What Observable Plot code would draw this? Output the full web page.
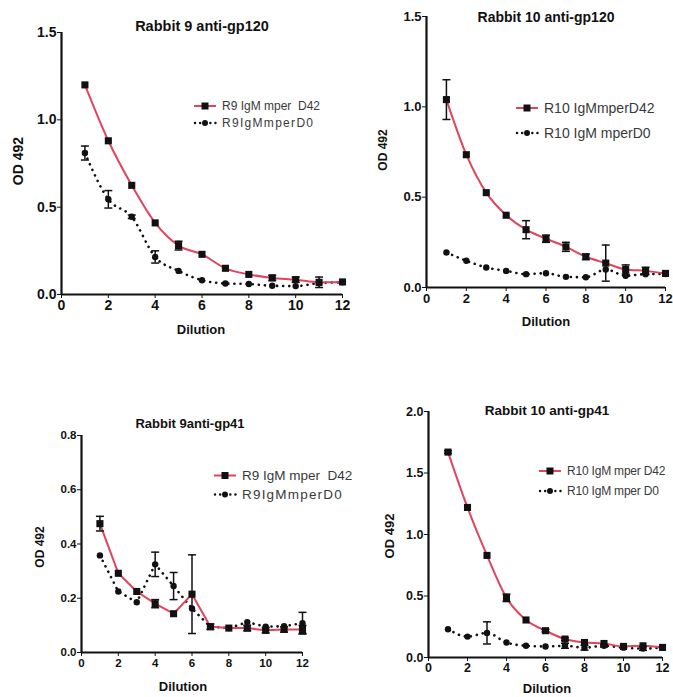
<!DOCTYPE html>
<html><head><meta charset="utf-8">
<script src="https://cdn.jsdelivr.net/npm/d3@7"></script>
<script src="https://cdn.jsdelivr.net/npm/@observablehq/plot@0.6"></script>
<style>
body{margin:0;background:#fff;}
#root{position:relative;width:673px;height:697px;overflow:hidden;font-family:"Liberation Sans",Arial,sans-serif;color:#111;}
.abs{position:absolute;}
.ctr{transform:translate(-50%,-50%);white-space:nowrap;font-weight:bold;}
.rot{transform:translate(-50%,-50%) rotate(-90deg);white-space:nowrap;font-weight:bold;}
.leg{white-space:pre;color:#3a3a3a;display:flex;align-items:center;transform:translateY(-50%);}
.leg svg{margin-right:5px;}
</style>
</head><body><div id="root"></div>
<script>
const dilution = [1,2,3,4,5,6,7,8,9,10,11,12];
const xTicks = [0,2,4,6,8,10,12];
const red = "#e0445e";

// Rabbit 9 anti-gp120
const r9gp120_D42 = [1.20, 0.88, 0.625, 0.41, 0.28, 0.23, 0.15, 0.115, 0.095, 0.085, 0.07, 0.072];
const r9gp120_D42_err = [0, 0, 0, 0, 0.025, 0, 0, 0, 0.015, 0.015, 0.03, 0];
const r9gp120_D0 = [0.81, 0.545, 0.445, 0.215, 0.135, 0.082, 0.063, 0.06, 0.05, 0.048, 0.065, 0.07];
const r9gp120_D0_err = [0.04, 0.05, 0.01, 0.035, 0, 0, 0, 0, 0, 0, 0, 0];

// Rabbit 10 anti-gp120
const r10gp120_D42 = [1.04, 0.735, 0.525, 0.40, 0.32, 0.27, 0.225, 0.17, 0.135, 0.10, 0.092, 0.078];
const r10gp120_D42_err = [0.11, 0, 0, 0, 0.05, 0.02, 0.025, 0.015, 0.10, 0.025, 0.02, 0];
const r10gp120_D0 = [0.194, 0.148, 0.111, 0.092, 0.074, 0.079, 0.059, 0.057, 0.10, 0.065, 0.074, 0.075];
const r10gp120_D0_err = [0, 0, 0, 0, 0, 0, 0, 0, 0, 0, 0, 0];

// Rabbit 9 anti-gp41
const r9gp41_D42 = [0.475, 0.292, 0.225, 0.18, 0.143, 0.215, 0.095, 0.09, 0.09, 0.082, 0.085, 0.085];
const r9gp41_D42_err = [0.027, 0, 0, 0.015, 0, 0.145, 0.01, 0, 0.01, 0.01, 0.01, 0.015];
const r9gp41_D0 = [0.358, 0.225, 0.185, 0.325, 0.245, 0.162, 0.095, 0.09, 0.112, 0.095, 0.097, 0.108];
const r9gp41_D0_err = [0, 0, 0, 0.045, 0.05, 0, 0, 0, 0, 0, 0, 0.04];

// Rabbit 10 anti-gp41
const r10gp41_D42 = [1.67, 1.22, 0.83, 0.485, 0.305, 0.218, 0.15, 0.122, 0.114, 0.09, 0.095, 0.082];
const r10gp41_D42_err = [0.01, 0, 0, 0.03, 0, 0.01, 0.01, 0, 0, 0, 0, 0];
const r10gp41_D0 = [0.23, 0.17, 0.20, 0.122, 0.095, 0.09, 0.095, 0.08, 0.095, 0.08, 0.073, 0.08];
const r10gp41_D0_err = [0, 0, 0.09, 0, 0, 0, 0.02, 0.02, 0.01, 0, 0.015, 0];

const titles = ["Rabbit 9 anti-gp120", "Rabbit 10 anti-gp120", "Rabbit 9anti-gp41", "Rabbit 10 anti-gp41"];
const legendD42 = ["R9 IgM mper  D42", "R10 IgMmperD42", "R9 IgM mper  D42", "R10 IgM mper D42"];
const legendD0 = ["R9IgMmperD0", "R10 IgM mperD0", "R9IgMmperD0", "R10 IgM mper D0"];
const yMax = [1.5, 1.5, 0.8, 2.0];
const yTicks = [[0,0.5,1.0,1.5],[0,0.5,1.0,1.5],[0,0.2,0.4,0.6,0.8],[0,0.5,1.0,1.5,2.0]];

const panels = [
  {d42:r9gp120_D42, d42e:r9gp120_D42_err, d0:r9gp120_D0, d0e:r9gp120_D0_err, curve:"monotone-x",
   left:0, top:0, w:350, h:345, ml:61, mr:8, mt:32, mb:51, tick:14,
   title:[202,26,14.5], ylab:[18,161,14], xlab:[201,329,13],
   leg:{x:193, y1:106, y2:123, fs:12, ls1:0, ls2:1.3}},
  {d42:r10gp120_D42, d42e:r10gp120_D42_err, d0:r10gp120_D0, d0e:r10gp120_D0_err, curve:"monotone-x",
   left:340, top:0, w:333, h:330, ml:86, mr:8, mt:16, mb:43, tick:13,
   title:[546,17,14], ylab:[383,150,12], xlab:[546,321,13],
   leg:{x:515, y1:108, y2:133, fs:14, ls1:0, ls2:0}},
  {d42:r9gp41_D42, d42e:r9gp41_D42_err, d0:r9gp41_D0, d0e:r9gp41_D0_err, curve:"linear",
   left:0, top:380, w:340, h:317, ml:81, mr:38, mt:55, mb:45, tick:11.5,
   title:[190,423,13], ylab:[40,547,12], xlab:[183,686,13],
   leg:{x:213, y1:475, y2:494, fs:13.5, ls1:0, ls2:1.2}},
  {d42:r10gp41_D42, d42e:r10gp41_D42_err, d0:r10gp41_D0, d0e:r10gp41_D0_err, curve:"monotone-x",
   left:340, top:380, w:333, h:317, ml:88, mr:11, mt:31, mb:40, tick:12.5,
   title:[547,410,13.5], ylab:[389,536,13], xlab:[547,688,13],
   leg:{x:538, y1:471, y2:491, fs:12, ls1:-0.2, ls2:-0.2}}
];

const hline = {draw(ctx, size){ const r = Math.sqrt(size)/2; ctx.moveTo(-r,0); ctx.lineTo(r,0); }};
const root = document.getElementById("root");

function swatch(kind){
  const ns = "http://www.w3.org/2000/svg";
  const s = document.createElementNS(ns,"svg");
  s.setAttribute("width","24"); s.setAttribute("height","10");
  if(kind==="d42"){
    s.innerHTML = `<line x1="1" y1="5" x2="23" y2="5" stroke="${red}" stroke-width="2"/><rect x="8.5" y="1.5" width="7" height="7" fill="#111"/>`;
  } else {
    s.innerHTML = `<line x1="2" y1="5" x2="23" y2="5" stroke="#111" stroke-width="2.4" stroke-dasharray="0.1,5" stroke-linecap="round"/><circle cx="12" cy="5" r="3" fill="#111"/>`;
  }
  return s;
}

panels.forEach((p, k) => {
  const d42 = dilution.map((x,i)=>({x, y:p.d42[i], e:p.d42e[i]}));
  const d0 = dilution.map((x,i)=>({x, y:p.d0[i], e:p.d0e[i]}));
  const bars = d42.concat(d0).filter(d => d.e > 0);
  const chart = Plot.plot({
    width:p.w, height:p.h, marginLeft:p.ml, marginRight:p.mr, marginTop:p.mt, marginBottom:p.mb,
    style:{fontFamily:"'Liberation Sans', Arial, sans-serif", fontSize:p.tick+"px", fontWeight:"bold", color:"#111", background:"transparent", overflow:"visible"},
    x:{domain:[0,12], ticks:xTicks, tickSize:4, tickPadding:2, label:null},
    y:{domain:[0,yMax[k]], ticks:yTicks[k], tickFormat:d3.format(".1f"), tickSize:4, tickPadding:1, label:null},
    marks:[
      Plot.line(d0,{x:"x", y:"y", curve:p.curve, stroke:"#111", strokeWidth:2.6, strokeDasharray:"0.1,6", strokeLinecap:"round"}),
      Plot.line(d42,{x:"x", y:"y", curve:p.curve, stroke:red, strokeWidth:2}),
      Plot.ruleX(bars,{x:"x", y1:d=>d.y-d.e, y2:d=>d.y+d.e, stroke:"#111", strokeWidth:1.5}),
      Plot.dot(bars,{x:"x", y:d=>d.y+d.e, symbol:hline, r:4.5, stroke:"#111", strokeWidth:1.5}),
      Plot.dot(bars,{x:"x", y:d=>d.y-d.e, symbol:hline, r:4.5, stroke:"#111", strokeWidth:1.5}),
      Plot.dot(d0,{x:"x", y:"y", r:3.2, fill:"#111", stroke:"none"}),
      Plot.dot(d42,{x:"x", y:"y", symbol:"square", r:4, fill:"#111", stroke:"none"}),
      Plot.ruleY([0],{stroke:"#111", strokeWidth:2.2}),
      Plot.ruleX([0],{stroke:"#111", strokeWidth:2.2})
    ]
  });
  chart.style.position = "absolute";
  chart.style.left = p.left + "px";
  chart.style.top = p.top + "px";
  root.appendChild(chart);

  const t = document.createElement("div");
  t.className = "abs ctr"; t.textContent = titles[k];
  t.style.left = p.title[0]+"px"; t.style.top = p.title[1]+"px"; t.style.fontSize = p.title[2]+"px";
  root.appendChild(t);

  const yl = document.createElement("div");
  yl.className = "abs rot"; yl.textContent = "OD 492";
  yl.style.left = p.ylab[0]+"px"; yl.style.top = p.ylab[1]+"px"; yl.style.fontSize = p.ylab[2]+"px";
  root.appendChild(yl);

  const xl = document.createElement("div");
  xl.className = "abs ctr"; xl.textContent = "Dilution";
  xl.style.left = p.xlab[0]+"px"; xl.style.top = p.xlab[1]+"px"; xl.style.fontSize = p.xlab[2]+"px";
  root.appendChild(xl);

  [[legendD42[k],"d42",p.leg.y1,p.leg.ls1],[legendD0[k],"d0",p.leg.y2,p.leg.ls2]].forEach(([txt,kind,y,ls])=>{
    const row = document.createElement("div");
    row.className = "abs leg";
    row.style.left = p.leg.x+"px"; row.style.top = y+"px"; row.style.fontSize = p.leg.fs+"px";
    row.appendChild(swatch(kind));
    const sp = document.createElement("span"); sp.textContent = txt; sp.style.letterSpacing = ls+"px";
    row.appendChild(sp);
    root.appendChild(row);
  });
});
</script>
</body></html>
